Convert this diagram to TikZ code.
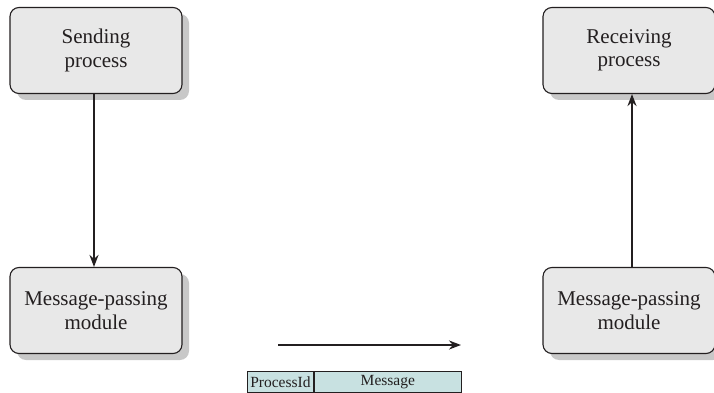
\documentclass[tikz,border=0pt]{standalone}
\usepackage{fontspec}
\setmainfont{Liberation Serif}
\usetikzlibrary{arrows.meta}
\definecolor{boxfill}{HTML}{E8E8E8}
\definecolor{shadowc}{HTML}{C8C8C8}
\definecolor{tealfill}{HTML}{C8E1E1}
\definecolor{ink}{HTML}{231F20}
\begin{document}
\begin{tikzpicture}[x=1pt,y=-1pt,
  procbox/.style={draw=ink, line width=1.1pt, fill=boxfill, rounded corners=9pt,
    minimum width=172pt, minimum height=86pt, align=center, inner sep=0pt,
    font=\fontsize{21}{23.5}\selectfont, text=ink},
  shadowbox/.style={fill=shadowc, rounded corners=9pt, minimum width=172pt, minimum height=86pt, inner sep=0pt},
  conn/.style={draw=ink, line width=2pt, -{Stealth[length=12pt,width=9pt]}},
  cell/.style={draw=ink, line width=0.9pt, fill=tealfill, minimum height=21.5pt, inner sep=0pt,
    font=\fontsize{15.5}{17}\selectfont, text=ink}
  ]
\useasboundingbox (0,0) rectangle (714,393);
% shadows
\node[shadowbox] at (103,57) {};
\node[shadowbox] at (103,317) {};
\node[shadowbox] at (636,57) {};
\node[shadowbox] at (636,317) {};
% boxes
\node[procbox] (send) at (96,50.5) {Sending\\process};
\node[procbox] (lmod) at (96,310.5) {Message-passing\\module};
\node[procbox] (recv) at (629,50.5) {Receiving\\process};
\node[procbox] (rmod) at (629,310.5) {Message-passing\\module};
% connectors
\draw[conn] (send.south -| 94,0) -- (lmod.north -| 94,0);
\draw[conn] (rmod.north -| 632,0) -- (recv.south -| 632,0);
\coordinate (hs) at (278,345);
\coordinate (he) at (461,345);
\draw[conn] (hs) -- (he);
% message format
\node[cell, minimum width=66pt, anchor=north west] (pid) at (247,370.5) {ProcessId};
\node[cell, minimum width=147pt, anchor=north west] (msg) at (pid.north east) {Message};
\end{tikzpicture}
\end{document}
